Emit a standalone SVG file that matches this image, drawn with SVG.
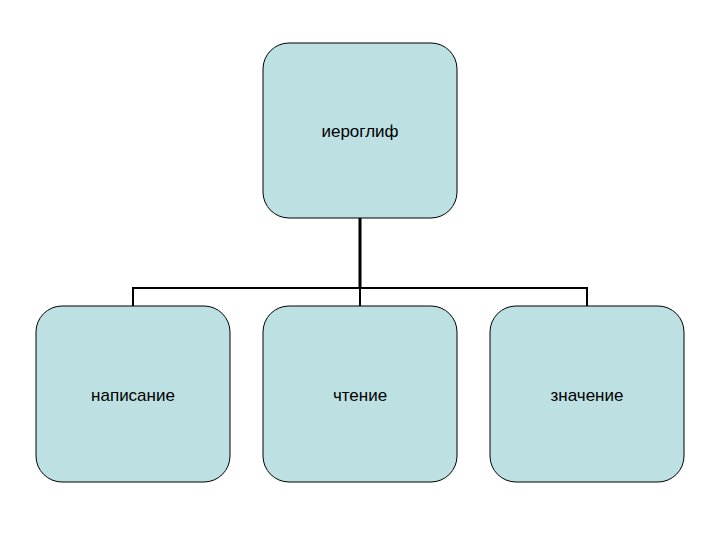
<svg xmlns="http://www.w3.org/2000/svg" width="720" height="540" viewBox="0 0 720 540">
<style>
.n{fill:#bde0e3;stroke:#000;stroke-width:1}
.t{font-family:"Liberation Sans",Arial,sans-serif;font-size:17px;text-anchor:middle;fill:#000}
.c{stroke:#000;fill:none}
</style>
<rect width="720" height="540" fill="#fff"/>
<g id="connectors">
<line class="c" x1="360" y1="218" x2="360" y2="288" stroke-width="3"/>
<polyline class="c" points="133,306 133,288 587,288 587,306" stroke-width="2"/>
<line class="c" x1="360" y1="288" x2="360" y2="306" stroke-width="2"/>
</g>
<g id="n0"><rect class="n" x="263" y="43" width="194" height="175" rx="26"/><text class="t" x="360" y="137">иероглиф</text></g>
<g id="n1"><rect class="n" x="36" y="306" width="194" height="176" rx="26"/><text class="t" x="133" y="401">написание</text></g>
<g id="n2"><rect class="n" x="263" y="306" width="194" height="176" rx="26"/><text class="t" x="360" y="401">чтение</text></g>
<g id="n3"><rect class="n" x="490" y="306" width="194" height="176" rx="26"/><text class="t" x="587" y="401">значение</text></g>
</svg>
